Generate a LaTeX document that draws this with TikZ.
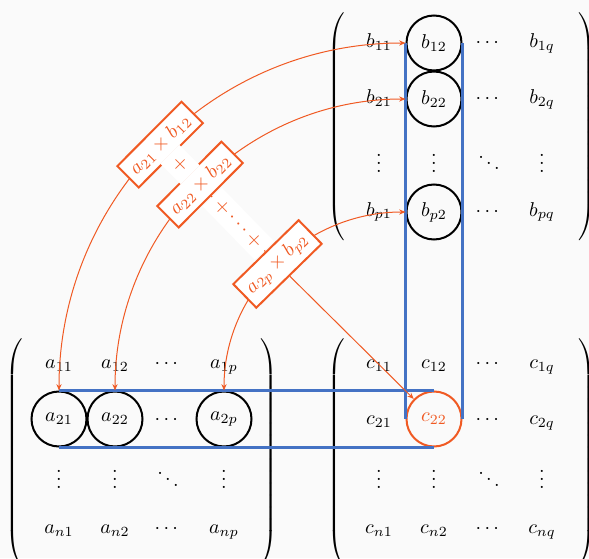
\documentclass[tikz,border=0pt]{standalone}
\usepackage{amsmath}
\usetikzlibrary{arrows.meta}
\definecolor{myorange}{HTML}{F05A23}
\definecolor{myblue}{HTML}{4472C4}
\definecolor{bgcol}{HTML}{FAFAFA}
\newcommand\bigL{$\delimiterfactor=1000\delimitershortfall=0pt\left(\vcenter{\hbox{\vrule height 110pt depth 0pt width 0pt}}\right.$}
\newcommand\bigR{$\delimiterfactor=1000\delimitershortfall=0pt\left.\vcenter{\hbox{\vrule height 110pt depth 0pt width 0pt}}\right)$}
\begin{document}
\begin{tikzpicture}[x=0.5pt,y=0.5pt,
  ent/.style={inner sep=0pt, anchor=base},
  circ/.style={circle, draw=black, line width=1pt, minimum size=27.5pt, inner sep=0pt},
  blueline/.style={myblue, line width=1.2pt},
  prodarrow/.style={myorange, line width=0.5pt, {Stealth[length=3.2pt,width=2.6pt]}-{Stealth[length=3.2pt,width=2.6pt]}},
  prodbox/.style={draw=myorange, line width=1pt, fill=white, text=myorange, sloped},
  sumlabel/.style={fill=white, text=myorange, sloped},
  sumline/.style={myorange, line width=0.5pt},
  delim/.style={inner sep=0pt, outer sep=0pt},
]
\fill[bgcol] (0,0) rectangle (589,558);
\useasboundingbox (0,0) rectangle (589,558);
\clip (0,0) rectangle (589,558);

% ---------- matrix B ----------
\node[ent] (b11) at (379,510) {$b_{11}$};
\node[circ] (b12) at (434,515) {$b_{12}$};
\node[ent] (b1d) at (489,510) {$\cdots$};
\node[ent] (b1q) at (542,510) {$b_{1q}$};
\node[ent] (b21) at (379,454) {$b_{21}$};
\node[circ] (b22) at (434,459) {$b_{22}$};
\node[ent] (b2d) at (489,454) {$\cdots$};
\node[ent] (b2q) at (542,454) {$b_{2q}$};
\node[ent] (b31) at (379,386) {$\vdots$};
\node[ent] (b32) at (434,386) {$\vdots$};
\node[ent] (b33) at (489,386) {$\ddots$};
\node[ent] (b34) at (542,386) {$\vdots$};
\node[ent] (bp1) at (379,342) {$b_{p1}$};
\node[circ] (bp2) at (434,346) {$b_{p2}$};
\node[ent] (bpd) at (489,342) {$\cdots$};
\node[ent] (bpq) at (542,342) {$b_{pq}$};
\node[delim, anchor=west] (bL) at (327,431) {\bigL};
\node[delim, anchor=east] (bR) at (596,431) {\bigR};

% ---------- matrix A ----------
\node[ent] (a11) at (59,190) {$a_{11}$};
\node[ent] (a12) at (115,190) {$a_{12}$};
\node[ent] (a1d) at (168,190) {$\cdots$};
\node[ent] (a1p) at (224,190) {$a_{1p}$};
\node[circ] (a21) at (59,139) {$a_{21}$};
\node[circ] (a22) at (115,139) {$a_{22}$};
\node[ent] (a2d) at (168,134) {$\cdots$};
\node[circ] (a2p) at (224,139) {$a_{2p}$};
\node[ent] (a31) at (59,70) {$\vdots$};
\node[ent] (a32) at (115,70) {$\vdots$};
\node[ent] (a33) at (168,70) {$\ddots$};
\node[ent] (a34) at (224,70) {$\vdots$};
\node[ent] (an1) at (59,25) {$a_{n1}$};
\node[ent] (an2) at (115,25) {$a_{n2}$};
\node[ent] (and) at (168,25) {$\cdots$};
\node[ent] (anp) at (224,25) {$a_{np}$};
\node[delim, anchor=west] (aL) at (5,105) {\bigL};
\node[delim, anchor=east] (aR) at (278,105) {\bigR};

% ---------- matrix C ----------
\node[ent] (c11) at (379,190) {$c_{11}$};
\node[ent] (c12) at (434,190) {$c_{12}$};
\node[ent] (c1d) at (489,190) {$\cdots$};
\node[ent] (c1q) at (542,190) {$c_{1q}$};
\node[ent] (c21) at (379,134) {$c_{21}$};
\node[circ, draw=myorange, text=myorange] (c22) at (434,139) {$c_{22}$};
\node[ent] (c2d) at (489,134) {$\cdots$};
\node[ent] (c2q) at (542,134) {$c_{2q}$};
\node[ent] (c31) at (379,70) {$\vdots$};
\node[ent] (c32) at (434,70) {$\vdots$};
\node[ent] (c33) at (489,70) {$\ddots$};
\node[ent] (c34) at (542,70) {$\vdots$};
\node[ent] (cn1) at (379,25) {$c_{n1}$};
\node[ent] (cn2) at (434,25) {$c_{n2}$};
\node[ent] (cnd) at (489,25) {$\cdots$};
\node[ent] (cnq) at (542,25) {$c_{nq}$};
\node[delim, anchor=west] (cL) at (327,105) {\bigL};
\node[delim, anchor=east] (cR) at (596,105) {\bigR};

% ---------- row / column bands ----------
\draw[blueline] (a21.north) -- (c22.north);
\draw[blueline] (a21.south) -- (c22.south);
\draw[blueline] (b12.west) -- (c22.west);
\draw[blueline] (b12.east) -- (c22.east);

% ---------- products ----------
\draw[prodarrow] (a21.north) to[out=90,in=180] node[prodbox] (p1) {$a_{21}\times b_{12}$} (b12.west);
\draw[prodarrow] (a22.north) to[out=90,in=180] node[prodbox] (p2) {$a_{22}\times b_{22}$} (b22.west);
\draw[prodarrow] (a2p.north) to[out=90,in=180] node[prodbox] (p3) {$a_{2p}\times b_{p2}$} (bp2.west);

\draw[sumline] (p1) -- node[sumlabel] {$+$} (p2) -- node[sumlabel] {$+\cdots+$} (p3);
\draw[sumline, -{Stealth[length=3.2pt,width=2.6pt]}] (p3) -- (c22);
\end{tikzpicture}
\end{document}
